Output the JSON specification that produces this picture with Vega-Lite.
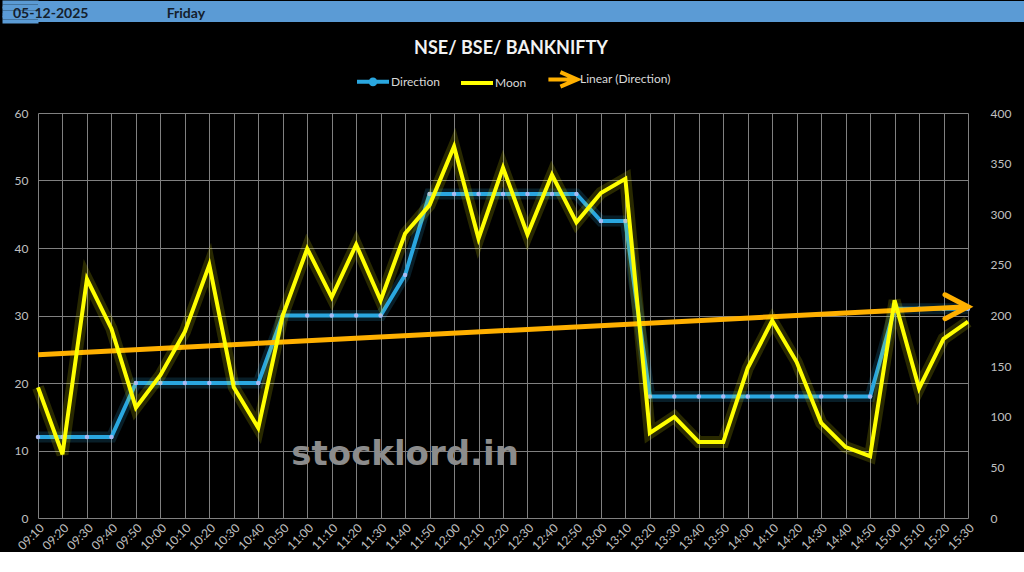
{
  "$schema": "https://vega.github.io/schema/vega-lite/v6.json",
  "background": "#000000",
  "padding": 0,
  "spacing": 17,
  "config": {
    "view": {"stroke": null},
    "axis": {"labelColor": "#c0c0c0", "labelFont": "Lato", "labelFontSize": 12, "gridColor": "#808080", "gridWidth": 1, "domain": false, "ticks": false, "title": null}
  },
  "vconcat": [
    {
      "width": 986,
      "height": 21,
      "view": {"fill": "#5b9bd5", "stroke": null},
      "title": {
        "text": "05-12-2025\u00a0\u00a0\u00a0\u00a0\u00a0\u00a0\u00a0\u00a0\u00a0\u00a0\u00a0\u00a0\u00a0\u00a0\u00a0\u00a0\u00a0\u00a0\u00a0\u00a0\u00a0\u00a0\u00a0Friday",
        "anchor": "start", "frame": "group", "orient": "top", "offset": -21, "dx": -25,
        "font": "Lato", "fontSize": 14, "fontWeight": "bold", "color": "#14202c"
      },
      "data": {"values": [{"date": "05-12-2025", "day": "Friday"}]},
      "mark": {"type": "text"},
      "encoding": {
        "text": {"value": ""},
        "y": {"datum": 0.5, "type": "quantitative", "scale": {"domain": [0, 1], "nice": false},
          "axis": {"orient": "left", "values": [0.0714, 0.2143, 0.3571, 0.5, 0.6429, 0.7857, 0.9286], "domain": false, "ticks": true, "tickSize": 36, "tickWidth": 4, "tickColor": "#5b9bd5", "tickCap": "butt", "tickOpacity": 1, "labels": false, "grid": false, "minExtent": 0, "maxExtent": 0}}
      }
    },
    {
      "width": 930,
      "height": 405,
      "title": {
        "text": "NSE/ BSE/ BANKNIFTY", "anchor": "middle", "offset": 49, "dx": 8,
        "font": "Lato", "fontSize": 18, "fontWeight": "bold", "color": "#f2f2f2"
      },
      "data": {"values": [
        {"t": "09:10", "dir": 12, "moon": 129, "trend": 24.2},
        {"t": "09:20", "dir": 12, "moon": 63},
        {"t": "09:30", "dir": 12, "moon": 236},
        {"t": "09:40", "dir": 12, "moon": 187},
        {"t": "09:50", "dir": 20, "moon": 109},
        {"t": "10:00", "dir": 20, "moon": 141},
        {"t": "10:10", "dir": 20, "moon": 184},
        {"t": "10:20", "dir": 20, "moon": 250},
        {"t": "10:30", "dir": 20, "moon": 129},
        {"t": "10:40", "dir": 20, "moon": 89},
        {"t": "10:50", "dir": 30, "moon": 200},
        {"t": "11:00", "dir": 30, "moon": 266},
        {"t": "11:10", "dir": 30, "moon": 218},
        {"t": "11:20", "dir": 30, "moon": 270},
        {"t": "11:30", "dir": 30, "moon": 215},
        {"t": "11:40", "dir": 36, "moon": 281},
        {"t": "11:50", "dir": 48, "moon": 309},
        {"t": "12:00", "dir": 48, "moon": 367},
        {"t": "12:10", "dir": 48, "moon": 276},
        {"t": "12:20", "dir": 48, "moon": 346},
        {"t": "12:30", "dir": 48, "moon": 280},
        {"t": "12:40", "dir": 48, "moon": 339},
        {"t": "12:50", "dir": 48, "moon": 292},
        {"t": "13:00", "dir": 44, "moon": 321},
        {"t": "13:10", "dir": 44, "moon": 335},
        {"t": "13:20", "dir": 18, "moon": 84},
        {"t": "13:30", "dir": 18, "moon": 100},
        {"t": "13:40", "dir": 18, "moon": 75},
        {"t": "13:50", "dir": 18, "moon": 75},
        {"t": "14:00", "dir": 18, "moon": 148},
        {"t": "14:10", "dir": 18, "moon": 195},
        {"t": "14:20", "dir": 18, "moon": 154},
        {"t": "14:30", "dir": 18, "moon": 94},
        {"t": "14:40", "dir": 18, "moon": 70},
        {"t": "14:50", "dir": 18, "moon": 61},
        {"t": "15:00", "dir": 31, "moon": 215},
        {"t": "15:10", "dir": 31, "moon": 128},
        {"t": "15:20", "dir": 31, "moon": 177},
        {"t": "15:30", "dir": 31, "moon": 194, "trend": 31.3}
      ]},
      "encoding": {
        "x": {
          "field": "t", "type": "ordinal", "sort": null,
          "scale": {"type": "point", "padding": 0},
          "axis": {"labelAngle": -45, "grid": true, "labelPadding": 4, "labelFontSize": 12}
        }
      },
      "resolve": {"scale": {"y": "independent"}},
      "layer": [
        {
          "layer": [
            {
              "mark": {"type": "line", "stroke": "#2aa7e0", "strokeWidth": 11, "opacity": 0.18},
              "encoding": {"y": {"field": "dir", "type": "quantitative", "scale": {"domain": [0, 60], "nice": false}, "axis": {"orient": "left", "values": [0, 10, 20, 30, 40, 50, 60], "grid": true, "minExtent": 38, "maxExtent": 38, "labelPadding": 10}}}
            },
            {
              "mark": {"type": "line", "strokeWidth": 4},
              "encoding": {
                "y": {"field": "dir", "type": "quantitative"},
                "color": {
                  "datum": "Direction",
                  "scale": {"domain": ["Direction", "Moon", "Linear (Direction)"], "range": ["#2aa7e0", "#ffff00", "#ffb000"]},
                  "legend": {
                    "title": null, "orient": "none", "legendX": 317, "legendY": 60, "direction": "horizontal",
                    "symbolSize": 1024, "symbolStrokeWidth": 4,
                    "labelColor": "#d9d9d9", "labelFont": "Lato", "labelFontSize": 12, "labelOffset": 0, "columnPadding": 13,
                    "encode": {
                      "symbols": {
                        "update": {
                          "shape": {"signal": "datum.value === 'Direction' ? 'M -1 0 L 1 0 M 0.15 0 A 0.15 0.15 0 1 1 -0.15 0 A 0.15 0.15 0 1 1 0.15 0' : datum.value === 'Moon' ? 'M -1 0 L 1 0' : 'M -0.85 0 L 0.85 0 M -0.1 -0.45 L 0.95 0 L -0.1 0.45'"},
                          "stroke": {"signal": "datum.value === 'Direction' ? '#2aa7e0' : datum.value === 'Moon' ? '#ffff00' : '#ffb000'"},
                          "fill": {"signal": "datum.value === 'Direction' ? '#a9b9f2' : 'transparent'"},
                          "strokeWidth": {"value": 4},
                          "opacity": {"value": 1}
                        }
                      }
                    }
                  }
                }
              }
            },
            {
              "mark": {"type": "point", "filled": true, "color": "#a9b9f2", "size": 20, "opacity": 1},
              "encoding": {"y": {"field": "dir", "type": "quantitative"}}
            },
            {
              "transform": [{"filter": "isValid(datum.trend)"}],
              "mark": {"type": "line", "strokeWidth": 5},
              "encoding": {
                "y": {"field": "trend", "type": "quantitative"},
                "color": {"datum": "Linear (Direction)"}
              }
            },
            {
              "transform": [{"filter": "datum.t == '15:30'"}],
              "mark": {"type": "point", "shape": "M -1 -0.52 L 0 0 L -1 0.52", "size": 2116, "stroke": "#ffb000", "strokeWidth": 5, "filled": false, "opacity": 1, "strokeJoin": "miter", "strokeCap": "round"},
              "encoding": {"y": {"field": "trend", "type": "quantitative"}}
            },
            {
              "transform": [{"filter": "datum.t == '11:40'"}],
              "mark": {"type": "text", "font": "DejaVu Sans", "fontWeight": "bold", "fontSize": 34, "color": "#8c8c8c", "align": "center", "baseline": "alphabetic"},
              "encoding": {
                "y": {"datum": 7.85, "type": "quantitative"},
                "text": {"value": "stocklord.in"}
              }
            }
          ]
        },
        {
          "layer": [
            {
              "mark": {"type": "line", "stroke": "#ffff00", "strokeWidth": 12, "opacity": 0.16},
              "encoding": {
                "y": {"field": "moon", "type": "quantitative", "scale": {"domain": [0, 400], "nice": false}, "axis": {"orient": "right", "values": [0, 50, 100, 150, 200, 250, 300, 350, 400], "grid": false, "minExtent": 56, "maxExtent": 56, "labelPadding": 22}}
              }
            },
            {
              "mark": {"type": "line", "strokeWidth": 4},
              "encoding": {
                "y": {"field": "moon", "type": "quantitative"},
                "color": {"datum": "Moon"}
              }
            }
          ]
        }
      ]
    }
  ]
}
